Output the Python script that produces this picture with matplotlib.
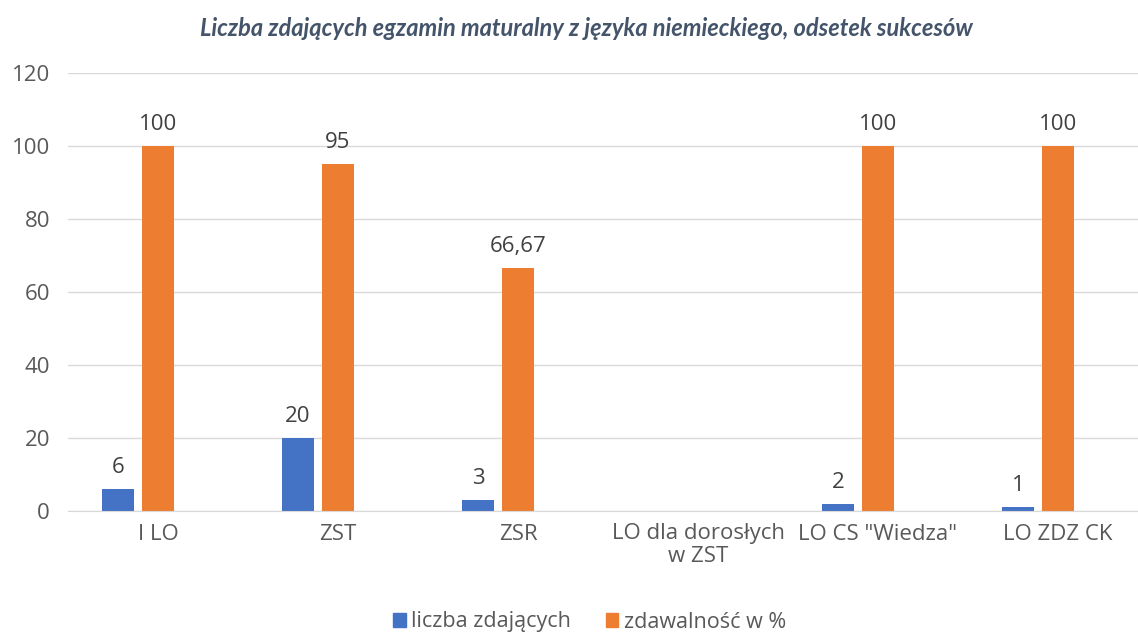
import matplotlib.pyplot as plt
import numpy as np

szkoly = ["I LO", "ZST", "ZSR", "LO dla dorosłych\nw ZST", "LO CS \"Wiedza\"", "LO ZDZ CK"]
liczba = [6, 20, 3, None, 2, 1]
zdawalnosc = [100, 95, 66.67, None, 100, 100]

plt.rcParams['font.family'] = ['Open Sans', 'DejaVu Sans']

fig = plt.figure(figsize=(11.38, 6.35), dpi=100)
ax = fig.add_axes([68 / 1138, 1 - 511 / 635, 1080 / 1138, 438 / 635])

x = np.arange(len(szkoly))
w = 32 / 180
krok = 40 / 180
niebieski = "#4472C4"
pomarancz = "#ED7D31"
rozmiar = 16

for i in range(len(szkoly)):
    if liczba[i] is not None:
        ax.bar(x[i] - krok, liczba[i], w, color=niebieski)
        ax.text(x[i] - krok, liczba[i] + 3, str(liczba[i]), ha="center", va="bottom",
                fontsize=rozmiar, color="#404040")
    if zdawalnosc[i] is not None:
        ax.bar(x[i], zdawalnosc[i], w, color=pomarancz)
        etykieta = f"{zdawalnosc[i]:g}".replace(".", ",")
        ax.text(x[i], zdawalnosc[i] + 3, etykieta, ha="center", va="bottom",
                fontsize=rozmiar, color="#404040")

ax.set_xlim(-0.5, len(szkoly) - 0.5)
ax.set_ylim(0, 120)
ax.set_yticks(range(0, 121, 20))
ax.set_xticks(x)
ax.set_xticklabels(szkoly, linespacing=1.1)
ax.tick_params(axis="both", length=0, labelsize=rozmiar, labelcolor="#595959")
ax.tick_params(axis="y", pad=13)
ax.tick_params(axis="x", pad=9)
ax.grid(axis="y", color="#D9D9D9", linewidth=1)
ax.set_axisbelow(True)
for s in ["top", "right", "left"]:
    ax.spines[s].set_visible(False)
ax.spines["bottom"].set_color("#D9D9D9")

fig.text(0.515, 1 - 28 / 635, "Liczba zdających egzamin maturalny z języka niemieckiego, odsetek sukcesów",
         ha="center", va="center", fontsize=17, fontweight="bold", fontstyle="italic", color="#44546A",
         family=["Lato", "DejaVu Sans"])

uchwyty = [plt.Rectangle((0, 0), 1, 1, color=niebieski), plt.Rectangle((0, 0), 1, 1, color=pomarancz)]
fig.legend(uchwyty, ["liczba zdających", "zdawalność w %"], loc="center", bbox_to_anchor=(0.518, 1 - 622 / 635),
           ncol=2, frameon=False, fontsize=15.5, handlelength=0.6, handleheight=0.6, handletextpad=0.25,
           columnspacing=1.6, labelcolor="#595959")

fig.savefig("out.png", dpi=100)
